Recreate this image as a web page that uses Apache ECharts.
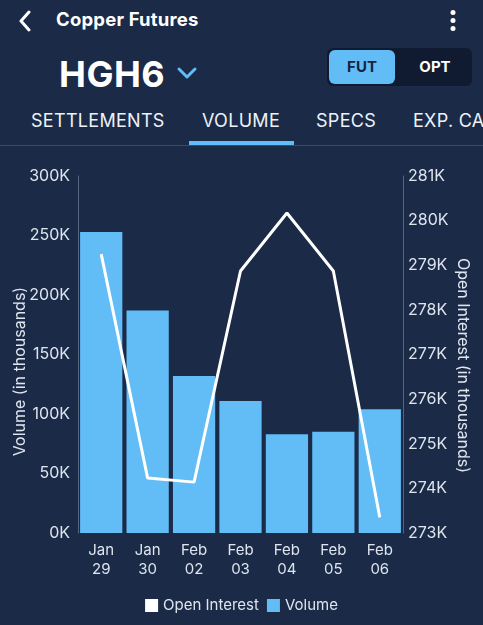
<!DOCTYPE html>
<html>
<head>
<meta charset="utf-8">
<script src="https://cdn.jsdelivr.net/npm/echarts@6/dist/echarts.min.js"></script>
<style>
  html, body { margin: 0; padding: 0; background: #1a2a47; width: 483px; height: 625px; overflow: hidden; font-family: Inter, 'Noto Sans', sans-serif; color: #fff; }
  #head { position: absolute; left: 0; top: 0; width: 483px; height: 150px; }
  .abs { position: absolute; }
  #title { left: 56px; top: 8px; font-size: 18.5px; font-weight: 700; letter-spacing: 0.2px; }
  #sym { left: 59px; top: 52px; font-size: 36px; font-weight: 700; letter-spacing: 0.5px; }
  #toggle { left: 327px; top: 48px; width: 145px; height: 38px; background: #101b31; border-radius: 6px; }
  #fut { left: 329px; top: 50px; width: 66px; height: 34px; background: #62bdf6; border-radius: 6px; color: #16243f; font-weight: 700; font-size: 15px; line-height: 34px; text-align: center; }
  #opt { left: 400px; top: 50px; width: 70px; height: 34px; color: #fff; font-weight: 700; font-size: 15px; line-height: 34px; text-align: center; }
  .tab { top: 110px; font-size: 18px; letter-spacing: 0.3px; color: #eef2f7; white-space: nowrap; }
  #uline { left: 189px; top: 141px; width: 105px; height: 4px; background: #62bdf6; }
  #sep { left: 0; top: 145px; width: 483px; height: 1px; background: #3b4a66; }
  #chart { position: absolute; left: 0; top: 150px; width: 483px; height: 475px; }
</style>
</head>
<body>
<div id="head">
  <svg class="abs" style="left:17px;top:10px" width="16" height="22" viewBox="0 0 16 22"><path d="M12 2 L4 11 L12 20" stroke="#fff" stroke-width="3" fill="none" stroke-linecap="round" stroke-linejoin="round"/></svg>
  <div id="title" class="abs">Copper Futures</div>
  <svg class="abs" style="left:448px;top:9px" width="10" height="24" viewBox="0 0 10 24"><circle cx="5" cy="3.5" r="2.5" fill="#fff"/><circle cx="5" cy="11.5" r="2.5" fill="#fff"/><circle cx="5" cy="19.5" r="2.5" fill="#fff"/></svg>
  <div id="sym" class="abs">HGH6</div>
  <svg class="abs" style="left:176px;top:66px" width="22" height="14" viewBox="0 0 22 14"><path d="M3 3 L11 11 L19 3" stroke="#62bdf6" stroke-width="3" fill="none" stroke-linecap="round" stroke-linejoin="round"/></svg>
  <div id="toggle" class="abs"></div>
  <div id="fut" class="abs">FUT</div>
  <div id="opt" class="abs">OPT</div>
  <div class="abs tab" style="left:31px">SETTLEMENTS</div>
  <div class="abs tab" style="left:202px">VOLUME</div>
  <div class="abs tab" style="left:316px">SPECS</div>
  <div class="abs tab" style="left:413px">EXP. CALENDAR</div>
  <div id="uline" class="abs"></div>
  <div id="sep" class="abs"></div>
</div>
<div id="chart"></div>
<script>
// categories + series
const dates = ['Jan\n29', 'Jan\n30', 'Feb\n02', 'Feb\n03', 'Feb\n04', 'Feb\n05', 'Feb\n06'];
const volume = [253000, 187000, 132000, 111000, 83000, 85000, 104000];
const openInterest = [279250, 274230, 274140, 278870, 280170, 278870, 273350];

const BLUE = '#62bdf6';
const LABEL = '#dfe5ee';
const AXIS = '#56647e';
const kFmt = v => Math.round(v / 1000) + 'K';

const chart = echarts.init(document.getElementById('chart'));
chart.setOption({
  backgroundColor: 'transparent',
  textStyle: { fontFamily: 'Inter' },
  grid: { left: 78, right: 80, top: 26, bottom: 92, outerBoundsMode: 'none' },
  legend: {
    bottom: 7,
    icon: 'rect',
    itemWidth: 13,
    itemHeight: 13,
    itemGap: 8,
    textStyle: { color: LABEL, fontSize: 15, fontFamily: 'Inter' },
    data: ['Open Interest', 'Volume']
  },
  xAxis: {
    type: 'category',
    data: dates,
    axisLine: { show: false },
    axisTick: { show: false },
    axisLabel: { color: LABEL, fontSize: 15, lineHeight: 19, margin: 8, fontFamily: 'Inter' }
  },
  yAxis: [{
    type: 'value',
    min: 0, max: 300000, interval: 50000,
    name: 'Volume (in thousands)',
    nameLocation: 'middle',
    nameRotate: 90,
    nameGap: 50,
    nameMoveOverlap: false,
    // shifted a bit below the plot centre, as in the app
    nameTextStyle: { color: LABEL, fontSize: 16, fontFamily: 'Inter', padding: [0, 34, 0, 0] },
    axisLine: { show: true, lineStyle: { color: AXIS, width: 1 } },
    axisTick: { show: false },
    splitLine: { show: false },
    axisLabel: { color: LABEL, fontSize: 16, margin: 8, formatter: kFmt, fontFamily: 'Inter' }
  }, {
    type: 'value',
    min: 273000, max: 281000, interval: 1000,
    name: 'Open Interest (in thousands)',
    nameLocation: 'middle',
    nameRotate: -90,
    nameGap: 52,
    nameMoveOverlap: false,
    nameTextStyle: { color: LABEL, fontSize: 16, fontFamily: 'Inter', padding: [0, 0, 0, 22] },
    axisLine: { show: true, lineStyle: { color: AXIS, width: 1 } },
    axisTick: { show: false },
    splitLine: { show: false },
    axisLabel: { color: LABEL, fontSize: 16, margin: 5, formatter: kFmt, fontFamily: 'Inter' }
  }],
  series: [{
    name: 'Volume',
    type: 'bar',
    data: volume,
    barCategoryGap: '9%',
    itemStyle: { color: BLUE },
    z: 1
  }, {
    name: 'Open Interest',
    type: 'line',
    yAxisIndex: 1,
    data: openInterest,
    showSymbol: false,
    symbol: 'none',
    itemStyle: { color: '#ffffff' },
    lineStyle: { color: '#ffffff', width: 3 },
    z: 3
  }]
});
</script>
</body>
</html>
